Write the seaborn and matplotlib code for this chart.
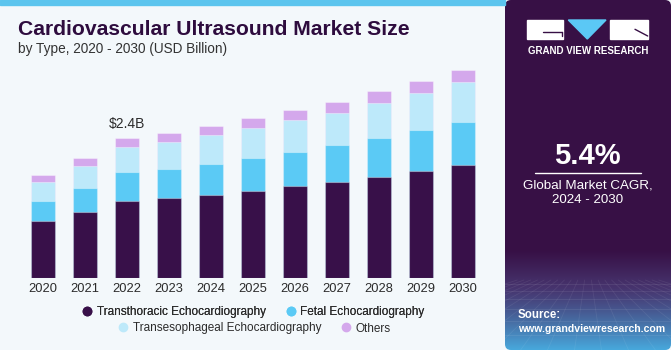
import numpy as np
import pandas as pd
import matplotlib
matplotlib.use("Agg")
import matplotlib.pyplot as plt
from matplotlib.patches import Rectangle, Polygon, FancyBboxPatch
from matplotlib.lines import Line2D
import seaborn as sns

# ---------------- data ----------------
years = ["2020", "2021", "2022", "2023", "2024", "2025",
         "2026", "2027", "2028", "2029", "2030"]
transthoracic = [0.98, 1.14, 1.33, 1.38, 1.43, 1.50, 1.58, 1.65, 1.74, 1.84, 1.94]
fetal = [0.34, 0.41, 0.49, 0.50, 0.53, 0.57, 0.59, 0.63, 0.66, 0.70, 0.74]
transesophageal = [0.33, 0.38, 0.44, 0.46, 0.49, 0.50, 0.54, 0.56, 0.60, 0.63, 0.68]
others = [0.115, 0.13, 0.15, 0.15, 0.17, 0.18, 0.18, 0.19, 0.21, 0.22, 0.22]
series_names = ["Transthoracic Echocardiography", "Fetal Echocardiography",
                "Transesophageal Echocardiography", "Others"]
series_colors = ["#381049", "#5BCAF5", "#BDE9FA", "#D4A8EC"]
highlight_year = "2022"
highlight_label = "$2.4B"
title = "Cardiovascular Ultrasound Market Size"
subtitle = "by Type, 2020 - 2030 (USD Billion)"
cagr_value = "5.4%"
cagr_lines = ["Global Market CAGR,", "2024 - 2030"]

BG = "#F3F8FB"
PANEL = "#371045"

sns.set_theme(style="white")
plt.rcParams["font.family"] = ["Liberation Sans", "DejaVu Sans"]

W, H = 671, 350
fig = plt.figure(figsize=(W / 100, H / 100), dpi=100, facecolor=BG)

# top accent stripe
fig.patches.append(Rectangle((0, 1 - 5 / H), 505 / W, 5 / H, transform=fig.transFigure,
                             color="#5CC5EE", zorder=0))

# ---------------- bars ----------------
df = pd.DataFrame({"year": years,
                   series_names[0]: transthoracic,
                   series_names[1]: fetal,
                   series_names[2]: transesophageal,
                   series_names[3]: others})
cum = df[series_names].cumsum(axis=1)

PX_PER_UNIT = 58.3
base_px = 278.3
top_px = 60
ax = fig.add_axes([19.9 / W, (H - base_px) / H, 466.2 / W, (base_px - top_px) / H])
ax.set_facecolor("none")
for name, col in reversed(list(zip(series_names, series_colors))):
    sns.barplot(x=df["year"], y=cum[name], color=col, saturation=1, width=0.55,
                errorbar=None, ax=ax, edgecolor=(1, 1, 1, 0.35), linewidth=0.8)

ax.set_xlim(-0.55, 10.55)
ax.set_ylim(0, (base_px - top_px) / PX_PER_UNIT)
ax.set_xlabel("")
ax.set_ylabel("")
ax.set_yticks([])
for s in ax.spines.values():
    s.set_visible(False)
ax.tick_params(axis="x", length=0, pad=3.2, labelsize=9.3, labelcolor="#2b2b2b")

hi = years.index(highlight_year)
ax.annotate(highlight_label, xy=(hi, cum[series_names[-1]][hi]), xytext=(0, 7.0),
            textcoords="offset points", ha="center", va="baseline",
            fontsize=10, color="#2b2b2b")

# ---------------- titles ----------------
fig.text(18 / W, 1 - 35 / H, title, fontsize=15.2, fontweight="bold",
         color="#2E0C3E", va="baseline", ha="left")
fig.text(18 / W, 1 - 53 / H, subtitle, fontsize=9.8, color="#333333",
         va="baseline", ha="left")

# ---------------- legend ----------------
handles = [Line2D([], [], marker="o", linestyle="", markersize=6,
                  markerfacecolor=c, markeredgecolor=c, label=n)
           for n, c in zip(series_names, series_colors)]
common = dict(frameon=False, fontsize=8.5, handletextpad=0.3, handlelength=1.0,
              columnspacing=1.6, ncol=2, loc="center", labelcolor="#2b2b2b",
              borderpad=0, borderaxespad=0)
leg1 = fig.legend(handles=handles[:2], bbox_to_anchor=(253 / W, 1 - 312.5 / H), **common)
fig.add_artist(leg1)
fig.legend(handles=handles[2:], bbox_to_anchor=(254 / W, 1 - 328.5 / H), **common)

# ---------------- right panel ----------------
px0 = 505
pw = W - px0
pax = fig.add_axes([px0 / W, 0, pw / W, 1])
pax.set_xlim(0, pw)
pax.set_ylim(H, 0)
pax.axis("off")

top = np.array([55, 16, 69]) / 255
mid = np.array([70, 50, 108]) / 255
bot = np.array([72, 170, 222]) / 255
grad = np.zeros((H, 2, 3))
for r in range(H):
    if r < 250:
        c = top
    elif r < 285:
        t = (r - 250) / 35
        c = top + (mid - top) * t
    else:
        t = ((r - 285) / 65) ** 1.2
        c = mid + (bot - mid) * t
    grad[r, :, :] = c
img = pax.imshow(grad, extent=[0, pw, H, 0], aspect="auto", zorder=0)
clip = FancyBboxPatch((0, 0), pw, H, boxstyle="round,pad=0,rounding_size=6",
                      transform=pax.transData, facecolor="none", edgecolor="none")
pax.add_patch(clip)
img.set_clip_path(clip)

# perspective grid
for yy in [284, 291, 299, 309, 321, 335]:
    pax.plot([0, pw], [yy, yy], color="white", alpha=0.09, lw=0.6)
for xb in np.linspace(-200, pw + 200, 22):
    pax.plot([pw / 2 + (xb - pw / 2) * 0.25, xb], [280, H], color="white", alpha=0.07, lw=0.6)

# logo
pax.add_patch(Rectangle((21.7, 20), 36.6, 19, color="white"))
pax.plot([38, 57], [31.5, 31.5], color=PANEL, lw=1.0)
pax.plot([57, 57], [31.5, 36], color=PANEL, lw=1.0)
pax.add_patch(Polygon([[63.3, 20], [101, 20], [82.3, 39]], closed=True, color="#5BC8F5"))
pax.add_patch(Rectangle((105, 20), 37.7, 19, color="white"))
pax.plot([130, 142.7], [29.3, 36], color=PANEL, lw=1.0)
pax.text(82.7, 50.7, "GRAND VIEW RESEARCH", color="white", fontsize=7, fontweight="bold",
         ha="center", va="center")

pax.text(82.5, 156, cagr_value, color="white", fontsize=21, fontweight="bold",
         ha="center", va="center")
pax.plot([30, 136], [173.3, 173.3], color="white", lw=1.0)
pax.text(83, 185, cagr_lines[0], color="white", fontsize=9.6, ha="center", va="center")
pax.text(83, 200, cagr_lines[1], color="white", fontsize=9.6, ha="center", va="center")

pax.text(13, 315, "Source:", color="white", fontsize=8.3, fontweight="bold",
         ha="left", va="center")
pax.text(13, 329, "www.grandviewresearch.com", color="white", fontsize=7.6,
         fontweight="bold", ha="left", va="center")

fig.savefig("out.png", dpi=100, facecolor=BG)
